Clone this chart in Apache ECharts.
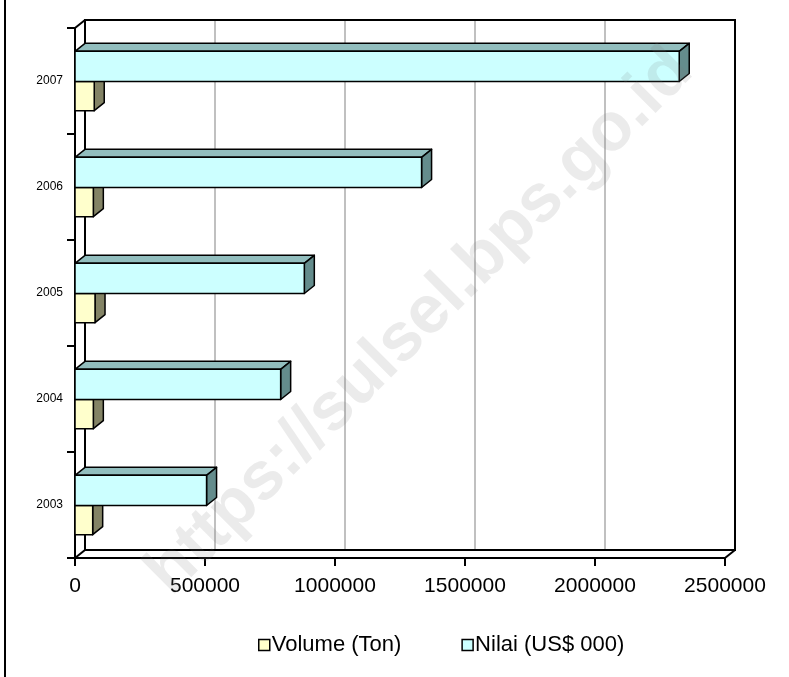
<!DOCTYPE html>
<html>
<head>
<meta charset="utf-8">
<script src="https://cdn.jsdelivr.net/npm/echarts@6/dist/echarts.min.js"></script>
<style>html,body{margin:0;padding:0;background:#fff;}#c{width:789px;height:677px;}</style>
</head>
<body>
<div id="c"></div>
<script>
const years = ['2003', '2004', '2005', '2006', '2007'];
const volume = [68000, 70500, 77000, 70500, 74000];
const nilai = [506000, 791000, 882000, 1333000, 2324000];
const xTicks = [0, 500000, 1000000, 1500000, 2000000, 2500000];
const seriesNames = ['Volume (Ton)', 'Nilai (US$ 000)'];

const DX = 10, DY = -8;
const FONT = '"Liberation Sans", Arial, sans-serif';

function barRenderer(f0, f1, front, top, side) {
  return function (params, api) {
    const cat = api.value(0);
    const val = api.value(1);
    const base = api.coord([0, cat]);
    const end = api.coord([val, cat]);
    const bh = api.size([0, 1])[1];
    const y0 = base[1] + f0 * bh, y1 = base[1] + f1 * bh;
    const x0 = base[0], x1 = end[0];
    const st = { stroke: '#000', lineWidth: 1.5, lineJoin: 'round' };
    return {
      type: 'group',
      children: [
        { type: 'polygon', shape: { points: [[x0, y0], [x0 + DX, y0 + DY], [x1 + DX, y0 + DY], [x1, y0]] }, style: Object.assign({ fill: top }, st) },
        { type: 'polygon', shape: { points: [[x1, y0], [x1 + DX, y0 + DY], [x1 + DX, y1 + DY], [x1, y1]] }, style: Object.assign({ fill: side }, st) },
        { type: 'polygon', shape: { points: [[x0, y0], [x1, y0], [x1, y1], [x0, y1]] }, style: Object.assign({ fill: front }, st) }
      ]
    };
  };
}

function frameRenderer(params, api) {
  const n = years.length;
  const bh = api.size([0, 1])[1];
  const pb = api.coord([xTicks[0], 0]);
  const pt = api.coord([xTicks[xTicks.length - 1], n - 1]);
  const xl = pb[0], xr = pt[0];
  const yb = pb[1] + bh / 2, yt = pt[1] - bh / 2;
  const children = [];
  for (let i = 1; i < xTicks.length - 1; i++) {
    const x = api.coord([xTicks[i], 0])[0] + DX;
    children.push({ type: 'line', shape: { x1: x, y1: yt + DY, x2: x, y2: yb + DY }, style: { stroke: '#c0c0c0', lineWidth: 2 } });
  }
  const blk = { stroke: '#000', lineWidth: 2, fill: null };
  children.push({ type: 'polyline', shape: { points: [[xl + DX, yb + DY], [xl + DX, yt + DY], [xr + DX, yt + DY], [xr + DX, yb + DY], [xl + DX, yb + DY]] }, style: blk });
  children.push({ type: 'line', shape: { x1: xl, y1: yt, x2: xl + DX, y2: yt + DY }, style: blk });
  children.push({ type: 'line', shape: { x1: xl, y1: yb, x2: xl + DX, y2: yb + DY }, style: blk });
  children.push({ type: 'line', shape: { x1: xr, y1: yb, x2: xr + DX, y2: yb + DY }, style: blk });
  return { type: 'group', children: children };
}

const chart = echarts.init(document.getElementById('c'), null, { renderer: 'canvas' });
chart.setOption({
  animation: false,
  backgroundColor: '#fff',
  textStyle: { fontFamily: FONT },
  grid: { left: 75, right: 64, top: 28, bottom: 119, containLabel: false },
  xAxis: {
    type: 'value', min: xTicks[0], max: xTicks[xTicks.length - 1], interval: 500000,
    axisLine: { show: true, lineStyle: { color: '#000', width: 2 } },
    axisTick: { show: true, length: 8, lineStyle: { color: '#000', width: 2 } },
    axisLabel: { color: '#000', fontSize: 21, margin: 18, fontFamily: FONT, formatter: v => String(v) },
    splitLine: { show: false }
  },
  yAxis: {
    type: 'category', data: years,
    axisLine: { show: true, lineStyle: { color: '#000', width: 2 } },
    axisTick: { show: true, length: 8, lineStyle: { color: '#000', width: 2 } },
    axisLabel: { color: '#000', fontSize: 12, margin: 12, fontFamily: FONT },
    splitLine: { show: false }
  },
  legend: {
    data: seriesNames, left: 258, top: 634, padding: 0, itemGap: 60, itemWidth: 11, itemHeight: 11, icon: 'rect',
    itemStyle: { borderColor: '#000', borderWidth: 1.5 },
    textStyle: { color: '#000', fontSize: 22, fontFamily: FONT, padding: [0, 0, 0, -3] }
  },
  series: [
    { type: 'custom', name: 'frame', z: 1, silent: true, renderItem: frameRenderer, data: [[0, 0]], encode: { x: 1, y: 0 } },
    { type: 'custom', name: seriesNames[0], z: 2, itemStyle: { color: '#FFFFCC' },
      renderItem: barRenderer(0.005, 0.28, '#FFFFCC', '#CCCC99', '#838365'),
      data: volume.map((v, i) => [i, v]), encode: { x: 1, y: 0 } },
    { type: 'custom', name: seriesNames[1], z: 3, itemStyle: { color: '#CCFFFF' },
      renderItem: barRenderer(-0.28, 0.005, '#CCFFFF', '#92BEBE', '#648C8C'),
      data: nilai.map((v, i) => [i, v]), encode: { x: 1, y: 0 } }
  ],
  graphic: [
    { type: 'line', shape: { x1: 5, y1: 0, x2: 5, y2: 677 }, style: { stroke: '#000', lineWidth: 2 }, z: 50 },
    { type: 'text', x: 420, y: 322, rotation: Math.PI / 4, z: 100, silent: true,
      style: { text: 'https://sulsel.bps.go.id', fill: 'rgba(120,120,120,0.15)', font: 'bold 68px ' + FONT, textAlign: 'center', textVerticalAlign: 'middle' } }
  ]
});
</script>
</body>
</html>
